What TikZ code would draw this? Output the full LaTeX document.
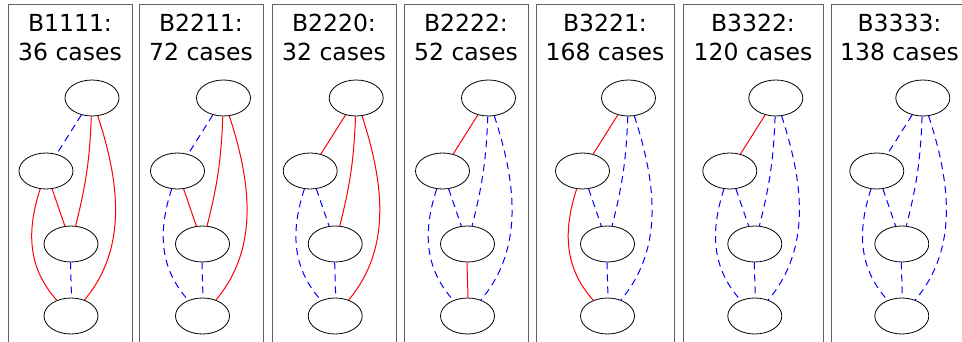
\documentclass[tikz,border=0pt]{standalone}
\usepackage{fontspec}
\setmainfont{DejaVu Sans}
\usetikzlibrary{shapes.geometric}
\begin{document}
\begin{tikzpicture}[x=1pt,y=1pt,
  gnode/.style={draw=black, line width=0.8pt, ellipse, minimum width=54pt, minimum height=36pt, inner sep=0pt},
  panel/.style={draw=black!62, line width=1pt},
  title/.style={anchor=base, font=\fontsize{23.5}{28}\selectfont, inner sep=0pt},
  R/.style={draw=red, line width=1pt},
  B/.style={draw=blue, line width=1pt, dash pattern=on 7pt off 5pt},
]
\useasboundingbox (0,0) rectangle (962,-342);
\clip (0,0) rectangle (962,-342);
\foreach \i/\L/\R/\mx/\nm/\cs/\sA/\sB/\sC/\sD/\sE/\sF in {
  1/8/132/46/B1111/36/B/R/R/R/R/B,
  2/139/263/177.5/B2211/72/B/R/R/R/B/B,
  3/272/396/310.2/B2220/32/R/R/R/B/B/B,
  4/404/528/442.5/B2222/52/R/B/B/B/B/R,
  5/536/674/582.5/B3221/168/R/B/B/B/R/B,
  6/683/823/729.8/B3322/120/R/B/B/B/B/B,
  7/831/968/876.8/B3333/138/B/B/B/B/B/B}{
  \draw[panel] (\L,-5) rectangle (\R,-360);
  \node[title] (ha\i) at ({(\L+\R)/2},-32) {\nm:};
  \node[title] (hb\i) at ({(\L+\R)/2},-61) {{\cs} cases};
  \node[gnode] (t\i) at ({\mx+46},-98) {};
  \node[gnode] (m\i) at (\mx,-171) {};
  \node[gnode] (c\i) at ({\mx+25},-244) {};
  \node[gnode] (b\i) at ({\mx+25},-316) {};
  \coordinate (cs\i) at ([xshift=-0.5pt]c\i.south);
  \coordinate (bn\i) at ([xshift=0.5pt]b\i.north);
  \draw[style=\sA] (t\i) -- (m\i);
  \draw[style=\sB] (t\i) to[bend left=6] (c\i);
  \draw[style=\sC] (t\i) to[out=-72,in=50,looseness=0.95] (b\i);
  \draw[style=\sD] (m\i) -- (c\i);
  \draw[style=\sE] (m\i) to[out=-108,in=132] (b\i);
  \draw[style=\sF] (cs\i) -- (bn\i);
}
\end{tikzpicture}
\end{document}
